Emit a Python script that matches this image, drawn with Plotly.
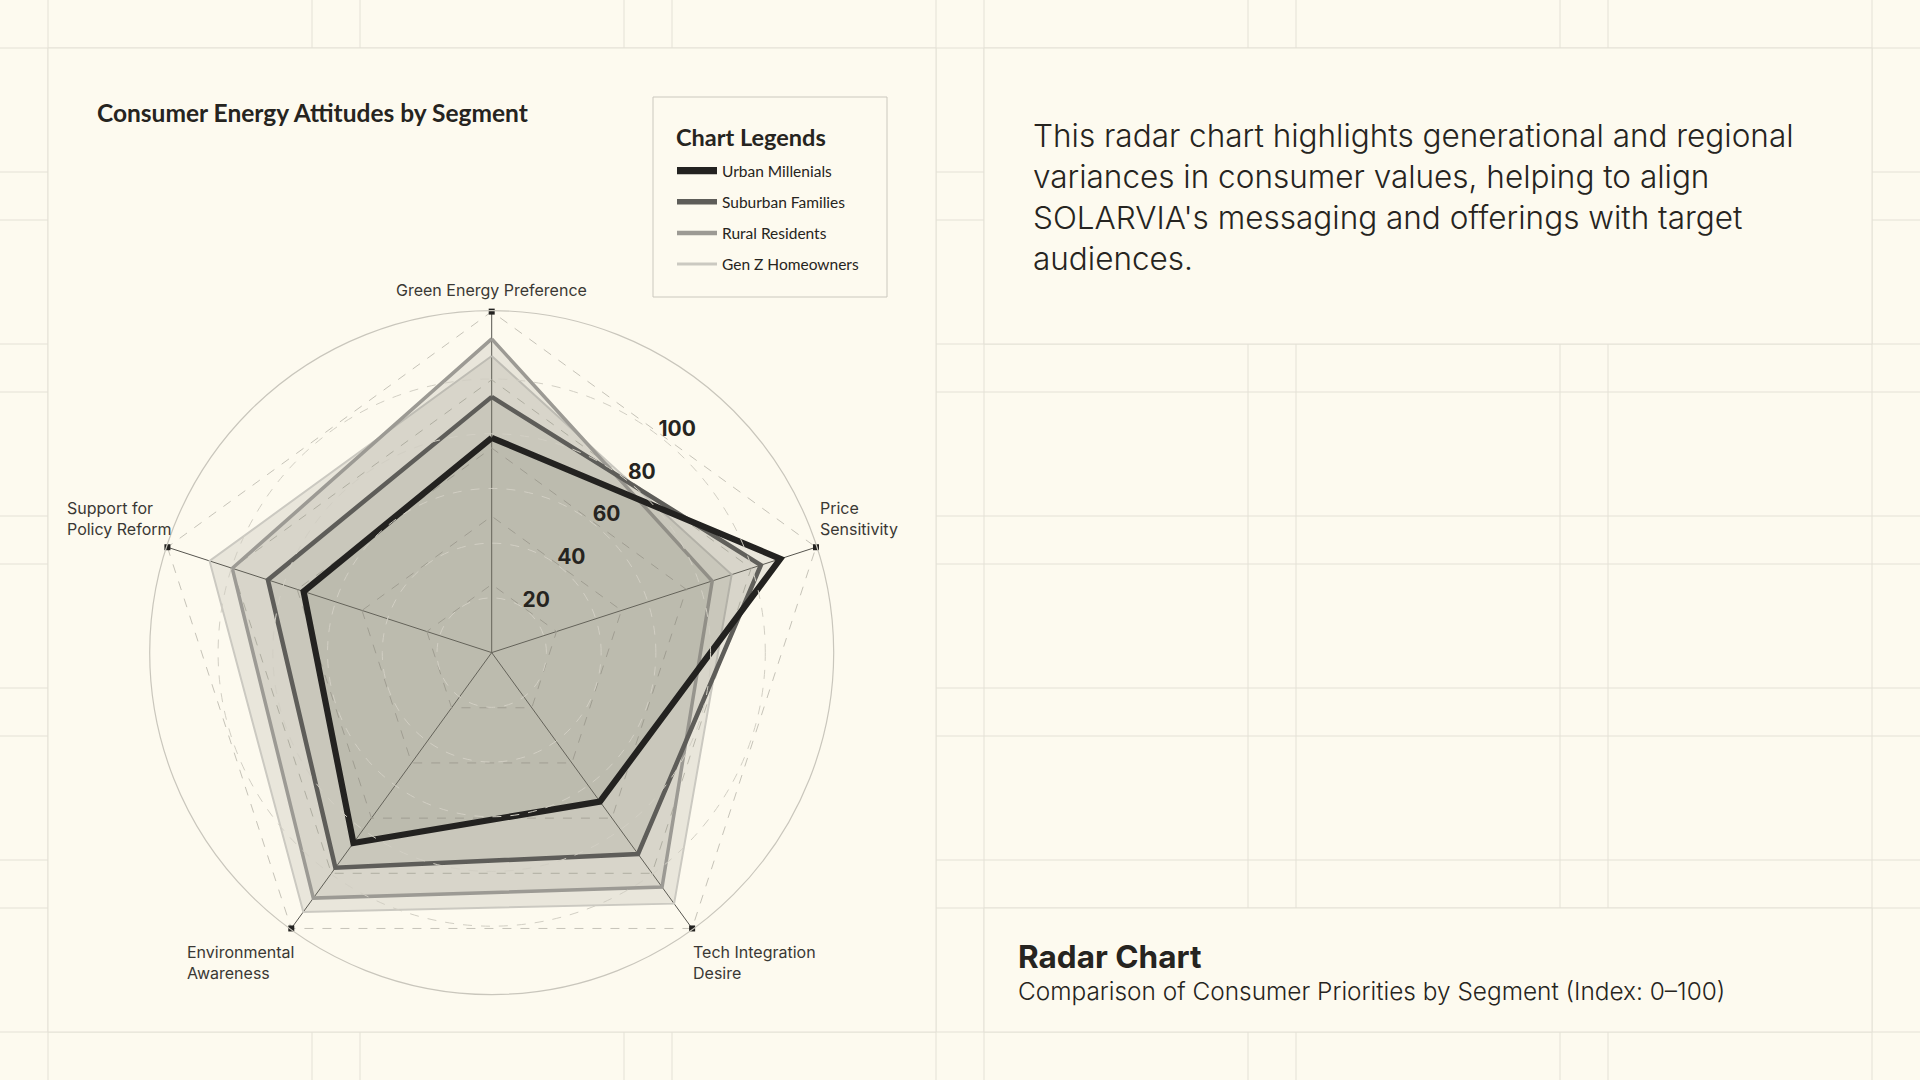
import math
import plotly.graph_objects as go

# ---------------- data ----------------
categories = ["Green Energy Preference", "Price Sensitivity", "Tech Integration Desire",
              "Environmental Awareness", "Support for Policy Reform"]
category_labels = ["Green Energy Preference", "Price<br>Sensitivity", "Tech Integration<br>Desire",
                   "Environmental<br>Awareness", "Support for<br>Policy Reform"]
series_names = ["Urban Millenials", "Suburban Families", "Rural Residents", "Gen Z Homeowners"]
urban_millenials = [63, 89, 54, 69, 58]
suburban_families = [75, 83, 73, 78, 69]
rural_residents = [92, 68, 85, 89, 80]
gen_z_homeowners = [87, 74, 91, 94, 87]
radial_ticks = [20, 40, 60, 80, 100]
radial_tick_labels = ["20", "40", "60", "80", "100"]
axis_max = 100

series_values = [urban_millenials, suburban_families, rural_residents, gen_z_homeowners]

# ---------------- styles ----------------
W, H = 1920, 1080
BG = "#fdfaef"
GRID = "#e4e1d6"
TEXT = "#262420"
line_colors = ["#232220", "#5e5d59", "#9c9a94", "#cbc9c1"]
line_widths = [6.2, 4.5, 3.5, 2]
fill_color = "rgba(120,118,106,0.145)"
# (xanchor, yanchor, xshift, yshift) for each category label around its vertex
label_styles = [("center", "middle", 0, 21), ("left", "middle", 2, 28.5), ("left", "middle", -1, -33),
                ("right", "middle", 4, -33), ("right", "middle", 7, 28.5)]

# polar placement (pixels)
cx, cy, R = 491.7, 652.6, 342
R_labels, label_hole_px, label_angle, label_dy = 291.5, 14.4, 39.5, 3


def dom(c, r, total, flip=False):
    if flip:
        c = total - c
    return [(c - r) / total, (c + r) / total]


fig = go.Figure()

closed_theta = categories + categories[:1]
# draw outer series first so the black line sits on top
for i in reversed(range(len(series_names))):
    vals = series_values[i]
    fig.add_trace(go.Scatterpolar(
        r=vals + vals[:1], theta=closed_theta, subplot="polar",
        mode="lines", fill="toself", fillcolor=fill_color,
        line=dict(color=line_colors[i], width=line_widths[i]),
        name=series_names[i], showlegend=False, hoverinfo="skip"))

# vertex markers at the axis maximum
fig.add_trace(go.Scatterpolar(
    r=[axis_max] * len(categories), theta=categories, subplot="polar",
    mode="markers", marker=dict(symbol="square", size=6, color="#232220"),
    cliponaxis=False, showlegend=False, hoverinfo="skip"))

# legend entries
for i, name in enumerate(series_names):
    fig.add_trace(go.Scatterpolar(
        r=[None], theta=[None], subplot="polar", mode="lines",
        line=dict(color=line_colors[i], width=line_widths[i] + 1),
        name=name, legendgroup=name, showlegend=True))

# circular dashed grid (secondary polar)
fig.add_trace(go.Scatterpolar(r=[], theta=[], subplot="polar2", showlegend=False))

# radial tick labels
fig.add_trace(go.Scatterpolar(
    r=radial_ticks, theta=[label_angle] * len(radial_ticks), subplot="polar3",
    mode="text", text=[f"<b>{t}</b>" for t in radial_tick_labels],
    textfont=dict(family="Inter", size=21, color=TEXT),
    textposition="middle center", showlegend=False, hoverinfo="skip", cliponaxis=False))

# ---------------- background grid + panels ----------------
shapes = []
margin, gutter, ncols, nrows = 48, 48, 6, 6
col_w = (W - 2 * margin - (ncols - 1) * gutter) / ncols
row_h = (H - 2 * margin - (nrows - 1) * gutter) / nrows
col_edges = []
for i in range(ncols):
    s = margin + i * (col_w + gutter)
    col_edges += [s, s + col_w]
row_edges = []
for j in range(nrows):
    s = margin + j * (row_h + gutter)
    row_edges += [s, s + row_h]
for x in col_edges:
    shapes.append(dict(type="line", xref="paper", yref="paper", x0=x / W, x1=x / W, y0=0, y1=1,
                       line=dict(color=GRID, width=1), layer="below"))
for y in row_edges:
    shapes.append(dict(type="line", xref="paper", yref="paper", x0=0, x1=1, y0=1 - y / H, y1=1 - y / H,
                       line=dict(color=GRID, width=1), layer="below"))


def cell_rect(c0, c1, r0, r1):
    x0 = margin + c0 * (col_w + gutter)
    x1 = margin + c1 * (col_w + gutter) + col_w
    y0 = margin + r0 * (row_h + gutter)
    y1 = margin + r1 * (row_h + gutter) + row_h
    return dict(type="rect", xref="paper", yref="paper", x0=x0 / W, x1=x1 / W,
                y0=1 - y1 / H, y1=1 - y0 / H, fillcolor=BG,
                line=dict(color=GRID, width=1), layer="below")


shapes += [cell_rect(0, 2, 0, 5), cell_rect(3, 5, 0, 1), cell_rect(3, 5, 5, 5)]

# legend frame
LX0, LY0, LX1, LY1 = 653, 97, 887, 297
shapes.append(dict(type="rect", xref="paper", yref="paper", x0=LX0 / W, x1=LX1 / W,
                   y0=1 - LY1 / H, y1=1 - LY0 / H, fillcolor="rgba(0,0,0,0)",
                   line=dict(color="#cbc8be", width=1), layer="below"))

# ---------------- annotations ----------------
annotations = [
    dict(text="<b>Consumer Energy Attitudes by Segment</b>", x=95 / W, y=1 - 112 / H,
         xref="paper", yref="paper", xanchor="left", yanchor="middle", showarrow=False,
         font=dict(family="Lato", size=24.5, color=TEXT)),
    dict(text="<b>Chart Legends</b>", x=674 / W, y=1 - 137 / H,
         xref="paper", yref="paper", xanchor="left", yanchor="middle", showarrow=False,
         font=dict(family="Lato", size=23.5, color=TEXT)),
    dict(text="This radar chart highlights generational and regional<br>"
              "variances in consumer values, helping to align<br>"
              "SOLARVIA's messaging and offerings with target<br>audiences.",
         x=1031 / W, y=1 - 114 / H, xref="paper", yref="paper", xanchor="left", yanchor="top",
         align="left", showarrow=False,
         font=dict(family="Inter", size=31.5, weight=300, color=TEXT)),
    dict(text="<b>Radar Chart</b>", x=1016 / W, y=1 - 956 / H, xref="paper", yref="paper",
         xanchor="left", yanchor="middle", showarrow=False,
         font=dict(family="Inter", size=31.5, color=TEXT)),
    dict(text="Comparison of Consumer Priorities by Segment (Index: 0–100)", x=1016 / W, y=1 - 991 / H,
         xref="paper", yref="paper", xanchor="left", yanchor="middle", showarrow=False,
         font=dict(family="Inter", size=24.4, weight=300, color=TEXT)),
]

# category labels anchored at each axis end of the radar
n = len(categories)
for i, (lab, st) in enumerate(zip(category_labels, label_styles)):
    ang = math.radians(360 * i / n)
    vx = cx + R * math.sin(ang)
    vy = cy - R * math.cos(ang)
    xa, ya, xs, ys = st
    annotations.append(dict(text=lab, x=vx / W, y=1 - vy / H, xref="paper", yref="paper",
                            xanchor=xa, yanchor=ya, xshift=xs, yshift=ys, align="left",
                            showarrow=False, borderpad=0,
                            font=dict(family="Inter", size=16, color="#3a3834")))

fig.update_layout(
    width=W, height=H, margin=dict(l=0, r=0, t=0, b=0),
    paper_bgcolor=BG, plot_bgcolor=BG,
    shapes=shapes, annotations=annotations,
    showlegend=True,
    legend=dict(x=672 / W, y=1 - 154 / H, xanchor="left", yanchor="top",
                bgcolor="rgba(0,0,0,0)", borderwidth=0,
                font=dict(family="Lato", size=15.5, color=TEXT),
                traceorder="grouped", tracegroupgap=8, itemwidth=40),
    polar=dict(
        domain=dict(x=dom(cx, R, W), y=dom(cy, R, H, flip=True)),
        bgcolor="rgba(0,0,0,0)", gridshape="linear",
        radialaxis=dict(range=[0, axis_max * 1.003], tickvals=radial_ticks, showticklabels=False, ticks="",
                        showline=False, gridcolor="#c6c3b8", griddash="dash", gridwidth=1),
        angularaxis=dict(type="category", categoryarray=categories, rotation=90, direction="clockwise",
                         showline=False, showgrid=True, gridcolor="#57554f", gridwidth=1, ticks="",
                         showticklabels=False),
    ),
    polar2=dict(
        domain=dict(x=dom(cx, R, W), y=dom(cy, R, H, flip=True)),
        bgcolor="rgba(0,0,0,0)", gridshape="circular",
        radialaxis=dict(range=[0, axis_max * 1.25], tickvals=radial_ticks, showticklabels=False, ticks="",
                        showline=False, gridcolor="#d2cfc4", griddash="dash", gridwidth=1),
        angularaxis=dict(showline=True, linecolor="#c9c6bc", linewidth=1.2, showgrid=False,
                         showticklabels=False, ticks="", rotation=90, direction="clockwise"),
    ),
    polar3=dict(
        domain=dict(x=dom(cx, R_labels, W), y=dom(cy + label_dy, R_labels, H, flip=True)),
        bgcolor="rgba(0,0,0,0)", hole=label_hole_px / R_labels,
        radialaxis=dict(range=[0, axis_max], visible=False),
        angularaxis=dict(visible=False, rotation=90, direction="clockwise"),
    ),
)

fig.write_html("out.html", config={"displayModeBar": False},
               post_script="document.body.style.margin='0';")
